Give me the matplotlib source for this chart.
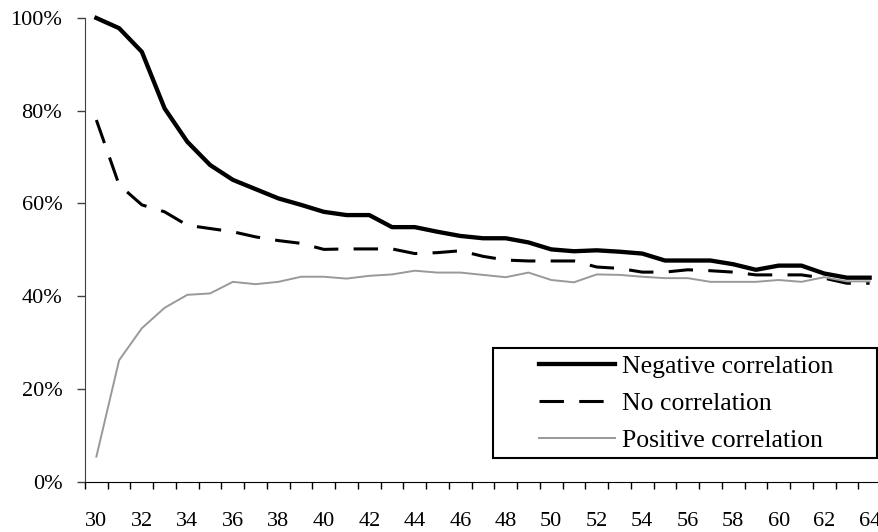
import numpy as np
import matplotlib
matplotlib.use('Agg')
import matplotlib.pyplot as plt
from matplotlib.patches import Rectangle
from matplotlib.ticker import FuncFormatter

plt.rcParams['font.family'] = ['Liberation Serif', 'DejaVu Serif']

# values
ages = list(range(30, 65))
negative = [1.000, 0.978, 0.927, 0.805, 0.733, 0.683, 0.651, 0.631, 0.611, 0.597,
            0.582, 0.575, 0.575, 0.549, 0.549, 0.539, 0.530, 0.525, 0.525, 0.516,
            0.501, 0.497, 0.499, 0.496, 0.492, 0.477, 0.477, 0.477, 0.469, 0.457,
            0.466, 0.466, 0.449, 0.440, 0.440]
no_corr = [0.780, 0.640, 0.597, 0.582, 0.553, 0.546, 0.539, 0.528, 0.520, 0.514,
           0.501, 0.502, 0.502, 0.502, 0.492, 0.494, 0.498, 0.486, 0.478, 0.476,
           0.476, 0.476, 0.463, 0.460, 0.452, 0.452, 0.457, 0.455, 0.452, 0.446,
           0.446, 0.446, 0.439, 0.428, 0.428]
positive = [0.054, 0.262, 0.331, 0.375, 0.403, 0.406, 0.431, 0.426, 0.431, 0.442,
            0.442, 0.438, 0.444, 0.447, 0.455, 0.451, 0.451, 0.446, 0.441, 0.451,
            0.435, 0.430, 0.447, 0.446, 0.442, 0.439, 0.439, 0.431, 0.431, 0.431,
            0.435, 0.431, 0.441, 0.432, 0.432]
labels = ['Negative correlation', 'No correlation', 'Positive correlation']

W, H = 879, 532
fig = plt.figure(figsize=(W / 100, H / 100), dpi=100)
ax = fig.add_axes([85 / W, 50.3 / H, 796 / W, 463.7 / H])

x = np.arange(len(ages))
l1, = ax.plot(x, negative, color='black', lw=3.1, solid_joinstyle='round', clip_on=False)
l2, = ax.plot(x, no_corr, color='black', lw=2.2, dashes=(8, 5), clip_on=False)
l3, = ax.plot(x, positive, color='#999999', lw=1.4, clip_on=False)

ax.set_xlim(-0.5, len(ages) - 0.5)
ax.set_ylim(0, 1)
for s in ['top', 'right']:
    ax.spines[s].set_visible(False)
ax.spines['left'].set_color('#404040')
ax.spines['bottom'].set_color('black')

ax.set_yticks(np.arange(0, 1.01, 0.2))
ax.yaxis.set_major_formatter(FuncFormatter(lambda v, p: '%d%%' % round(v * 100)))
ax.tick_params(axis='y', direction='out', length=5.8, width=1, pad=10.5,
               labelsize=16, color='#404040')

# tick marks between categories, labels on every second category
ax.set_xticks(np.arange(-0.5, len(ages), 1.0))
ax.set_xticklabels([])
ax.set_xticks(x[::2], minor=True)
ax.set_xticklabels([str(a) for a in ages[::2]], minor=True)
ax.tick_params(axis='x', which='major', direction='out', length=5, width=1)
ax.tick_params(axis='x', which='minor', length=0, pad=22, labelsize=16)

# legend box
fig.patches.append(Rectangle((493 / W, 1 - 458 / H), 384 / W, 110 / H,
                             transform=fig.transFigure, fill=False,
                             edgecolor='black', lw=1.5))
fig.legend([l1, l2, l3], labels, loc='upper left',
           bbox_to_anchor=(539 / W, 1 - 355 / H), frameon=False,
           fontsize=18.5, handlelength=2.96, handletextpad=0.27,
           labelspacing=0.55, borderpad=0, borderaxespad=0)

fig.savefig('out.png', dpi=100)
